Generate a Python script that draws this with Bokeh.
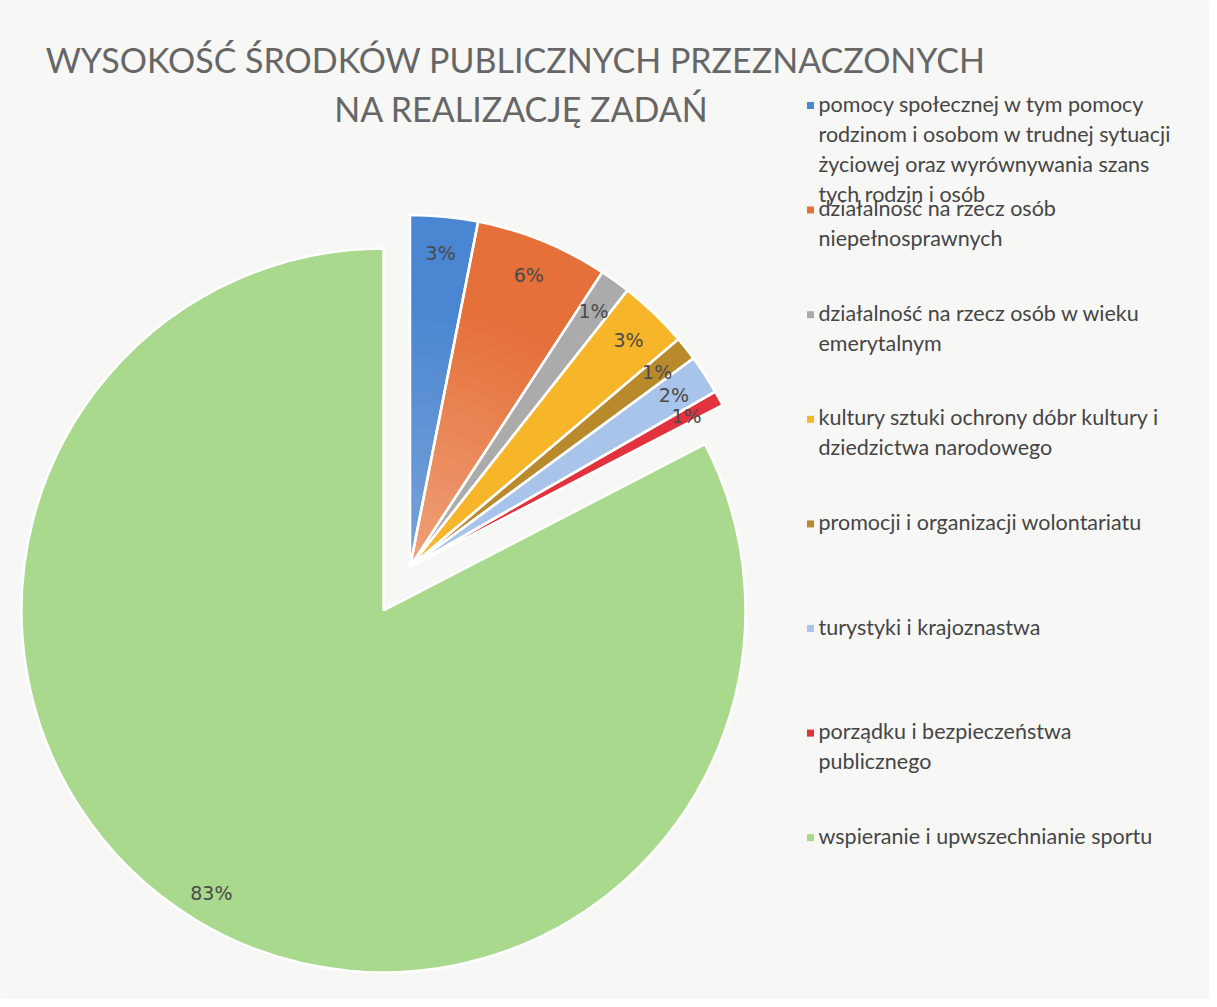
import numpy as np
from bokeh.plotting import figure
from bokeh.models import Range1d
from bokeh.embed import file_html
from bokeh.resources import INLINE
from bokeh.core.properties import value

# ---------------- data ----------------
categories = [
    "pomocy społecznej  w tym pomocy\nrodzinom i osobom w trudnej sytuacji\nżyciowej oraz wyrównywania szans\ntych rodzin i osób",
    "działalność na rzecz osób\nniepełnosprawnych",
    "działalność na rzecz osób w wieku\nemerytalnym",
    "kultury sztuki ochrony dóbr kultury i\ndziedzictwa narodowego",
    "promocji i organizacji wolontariatu",
    "turystyki i krajoznastwa",
    "porządku i bezpieczeństwa\npublicznego",
    "wspieranie i upwszechnianie sportu",
]
shares = [3.1, 6.1, 1.4, 3.2, 1.1, 1.8, 0.7, 82.6]
pct_labels = ["3%", "6%", "1%", "3%", "1%", "2%", "1%", "83%"]
exploded = [True, True, True, True, True, True, True, False]
colors = ["#4a86d2", "#e5703a", "#ababab", "#f7b52a", "#b98a2c", "#a9c4ea", "#e2323e", "#a9d98d"]
inner_colors = ["#7aa4d8", "#efa27a", None, None, None, None, None, None]
title_lines = ["WYSOKOŚĆ ŚRODKÓW PUBLICZNYCH PRZEZNACZONYCH", "NA REALIZACJĘ ZADAŃ"]

# ---------------- layout ----------------
W, H = 1209, 999
def py(y):  # reference pixel y -> data y
    return H - y

p = figure(width=W, height=H, output_backend="svg", toolbar_location=None,
           x_range=Range1d(0, W), y_range=Range1d(0, H), min_border=0)
p.axis.visible = False
p.grid.visible = False
p.outline_line_color = None
p.background_fill_color = "#f7f7f5"
p.border_fill_color = "#f7f7f5"

cx, cy = 383, py(610)
R_main = 362
R_exp = 352
vals = np.array(shares, dtype=float)
frac = vals / vals.sum()
cum = np.concatenate([[0], np.cumsum(frac)])
start = np.pi / 2 - 2 * np.pi * cum[:-1]
end = np.pi / 2 - 2 * np.pi * cum[1:]

# explode the group of small slices together along its bisector
grp_end = cum[len(shares) - 1]
grp_mid = np.pi / 2 - np.pi * grp_end
off = 51
ex, ey = cx + off * np.cos(grp_mid), cy + off * np.sin(grp_mid)

def hex2rgb(h):
    h = h.lstrip("#")
    return np.array([int(h[i:i + 2], 16) for i in (0, 2, 4)], dtype=float)

def rgb2hex(c):
    return "#%02x%02x%02x" % tuple(int(round(v)) for v in c)

xs, ys, rs = [], [], []
for i in range(len(shares)):
    x0, y0, r = (ex, ey, R_exp) if exploded[i] else (cx, cy, R_main)
    xs.append(x0); ys.append(y0); rs.append(r)

# base wedges
p.wedge(x=xs, y=ys, radius=rs, start_angle=list(start), end_angle=list(end),
        direction="clock", fill_color=colors, line_color=colors, line_width=0.5)

# radial gradient bands for the first two slices
nb = 30
for i in range(len(shares)):
    if inner_colors[i] is None:
        continue
    c_out, c_in = hex2rgb(colors[i]), hex2rgb(inner_colors[i])
    r_edges = np.linspace(0, rs[i], nb + 1)
    band_cols = []
    for k in range(nb):
        t = (k + 0.5) / nb
        w = min(1.0, t / 0.75)
        band_cols.append(rgb2hex(c_in * (1 - w) + c_out * w))
    p.annular_wedge(x=xs[i], y=ys[i], inner_radius=list(r_edges[:-1]), outer_radius=list(r_edges[1:]),
                    start_angle=start[i], end_angle=end[i], direction="clock",
                    fill_color=band_cols, line_color=band_cols, line_width=0.8)

# white separators
p.wedge(x=xs, y=ys, radius=rs, start_angle=list(start), end_angle=list(end),
        direction="clock", fill_alpha=0, line_color="white", line_width=2.5)

# percentage labels
mid = (start + end) / 2
lr = [0.895 * r if exploded[i] else 0.915 * r for i, r in enumerate(rs)]
lx = [xs[i] + lr[i] * np.cos(mid[i]) for i in range(len(shares))]
ly = [ys[i] + lr[i] * np.sin(mid[i]) for i in range(len(shares))]
p.text(x=lx, y=ly, text=pct_labels, text_align="center", text_baseline="middle",
       text_font=value("DejaVu Sans"), text_font_size="19px", text_color="#4a4a4a")

# title
p.text(x=[515, 521], y=[py(59), py(108)], text=title_lines, text_align="center",
       text_baseline="alphabetic", text_font=value("Lato"),
       text_font_size="34px", text_color="#666666")

# legend
leg_x = 810
leg_y0 = 105
leg_step = 104.6
leg_ys = [py(leg_y0 + k * leg_step) for k in range(len(categories))]
p.scatter(x=[leg_x] * len(categories), y=leg_ys, marker="square", size=7,
          fill_color=colors, line_color=None)
p.text(x=[818] * len(categories), y=[y + 15 for y in leg_ys], text=categories,
       text_align="left", text_baseline="top", text_font=value("Lato"),
       text_font_size="21.5px", text_color="#454545", text_line_height=1.16)

open("out.html", "w").write(file_html(p, INLINE))
